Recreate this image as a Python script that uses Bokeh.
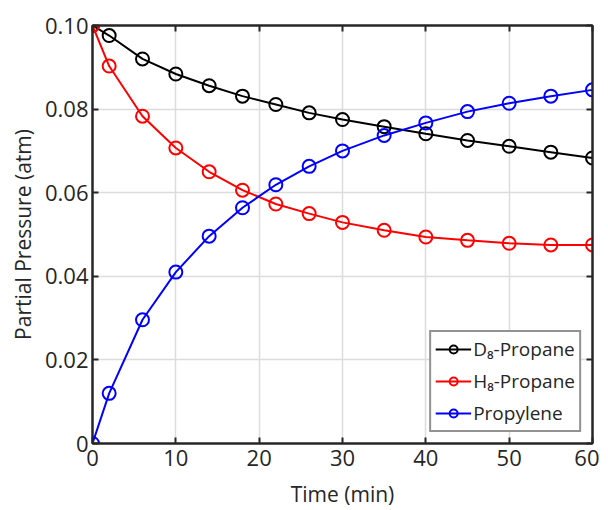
from bokeh.plotting import figure
from bokeh.models import Range1d, FixedTicker, LinearAxis, CustomJSTickFormatter, Legend, LegendItem
from bokeh.embed import file_html
from bokeh.resources import INLINE

time = [0, 2, 6, 10, 14, 18, 22, 26, 30, 35, 40, 45, 50, 55, 60]
d8_propane = [0.1000, 0.0976, 0.0920, 0.0884, 0.0856, 0.0831, 0.0811, 0.0791, 0.0775, 0.0758,
              0.0741, 0.0725, 0.0711, 0.0697, 0.0683]
h8_propane = [0.1000, 0.0903, 0.0783, 0.0707, 0.0650, 0.0606, 0.0573, 0.0550, 0.0529, 0.0510,
              0.0494, 0.0486, 0.0479, 0.0475, 0.0475]
propylene = [0.0000, 0.0120, 0.0296, 0.0410, 0.0496, 0.0564, 0.0619, 0.0663, 0.0700, 0.0737,
             0.0767, 0.0794, 0.0814, 0.0831, 0.0846]
series_names = ["D₈-Propane", "H₈-Propane", "Propylene"]
x_ticks = [0, 10, 20, 30, 40, 50, 60]
y_ticks = [0, 0.02, 0.04, 0.06, 0.08, 0.10]

FONT = "Open Sans"
TXT = "#262626"

p = figure(output_backend="svg", toolbar_location=None,
           frame_width=500, frame_height=418,
           x_range=Range1d(0, 60), y_range=Range1d(0, 0.1),
           min_border_left=92, min_border_right=7, min_border_top=25, min_border_bottom=60)
p.background_fill_color = "white"
p.border_fill_color = "white"
p.outline_line_color = TXT
p.outline_line_width = 2

for ax in [p.xaxis[0], p.yaxis[0]]:
    ax.axis_line_color = TXT
    ax.axis_line_width = 2
    ax.major_tick_line_color = TXT
    ax.major_tick_line_width = 2
    ax.major_tick_in = 6
    ax.major_tick_out = 0
    ax.minor_tick_line_color = None
    ax.major_label_text_font = FONT
    ax.major_label_text_font_size = "22px"
    ax.major_label_text_color = TXT
    ax.axis_label_text_font = FONT
    ax.axis_label_text_font_size = "21px"
    ax.axis_label_text_font_style = "normal"
    ax.axis_label_text_color = TXT

p.xaxis[0].ticker = FixedTicker(ticks=x_ticks)
p.yaxis[0].ticker = FixedTicker(ticks=y_ticks)
p.xaxis[0].axis_label = "Time (min)"
p.yaxis[0].axis_label = "Partial Pressure (atm)"
p.xaxis[0].major_label_standoff = 6
p.yaxis[0].major_label_standoff = 4
p.xaxis[0].axis_label_standoff = 11
p.yaxis[0].axis_label_standoff = 5
p.yaxis[0].formatter = CustomJSTickFormatter(code="return Math.abs(tick) < 1e-9 ? '0' : tick.toFixed(2);")

# box ticks on top and right (no labels)
for loc, ticks in [("above", x_ticks), ("right", y_ticks)]:
    a = LinearAxis(ticker=FixedTicker(ticks=ticks),
                   formatter=CustomJSTickFormatter(code="return '';"))
    a.axis_line_color = TXT
    a.axis_line_width = 2
    a.major_tick_line_color = TXT
    a.major_tick_line_width = 2
    a.major_tick_in = 6
    a.major_tick_out = 0
    a.minor_tick_line_color = None
    a.major_label_standoff = 0
    p.add_layout(a, loc)

p.grid.grid_line_color = "#dcdcdc"
p.grid.grid_line_width = 1.5
p.xgrid.ticker = FixedTicker(ticks=x_ticks)
p.ygrid.ticker = FixedTicker(ticks=y_ticks)

colors = ["#000000", "#ff0000", "#0000ff"]
items = []
for name, ys, c in zip(series_names, [d8_propane, h8_propane, propylene], colors):
    ln = p.line(time, ys, line_color=c, line_width=2)
    sc = p.scatter(time, ys, marker="circle", size=13, line_color=c, line_width=2, fill_alpha=0)
    items.append(LegendItem(label=name, renderers=[ln, sc]))

legend = Legend(items=items, location="bottom_right")
legend.border_line_color = TXT
legend.border_line_width = 2
legend.label_text_font = FONT
legend.label_text_font_size = "19px"
legend.label_text_color = TXT
legend.glyph_width = 36
legend.label_standoff = 2
legend.spacing = 6
legend.padding = 4
legend.margin = 11
legend.background_fill_alpha = 1
p.add_layout(legend, "center")

open("out.html", "w").write(file_html(p, INLINE))
